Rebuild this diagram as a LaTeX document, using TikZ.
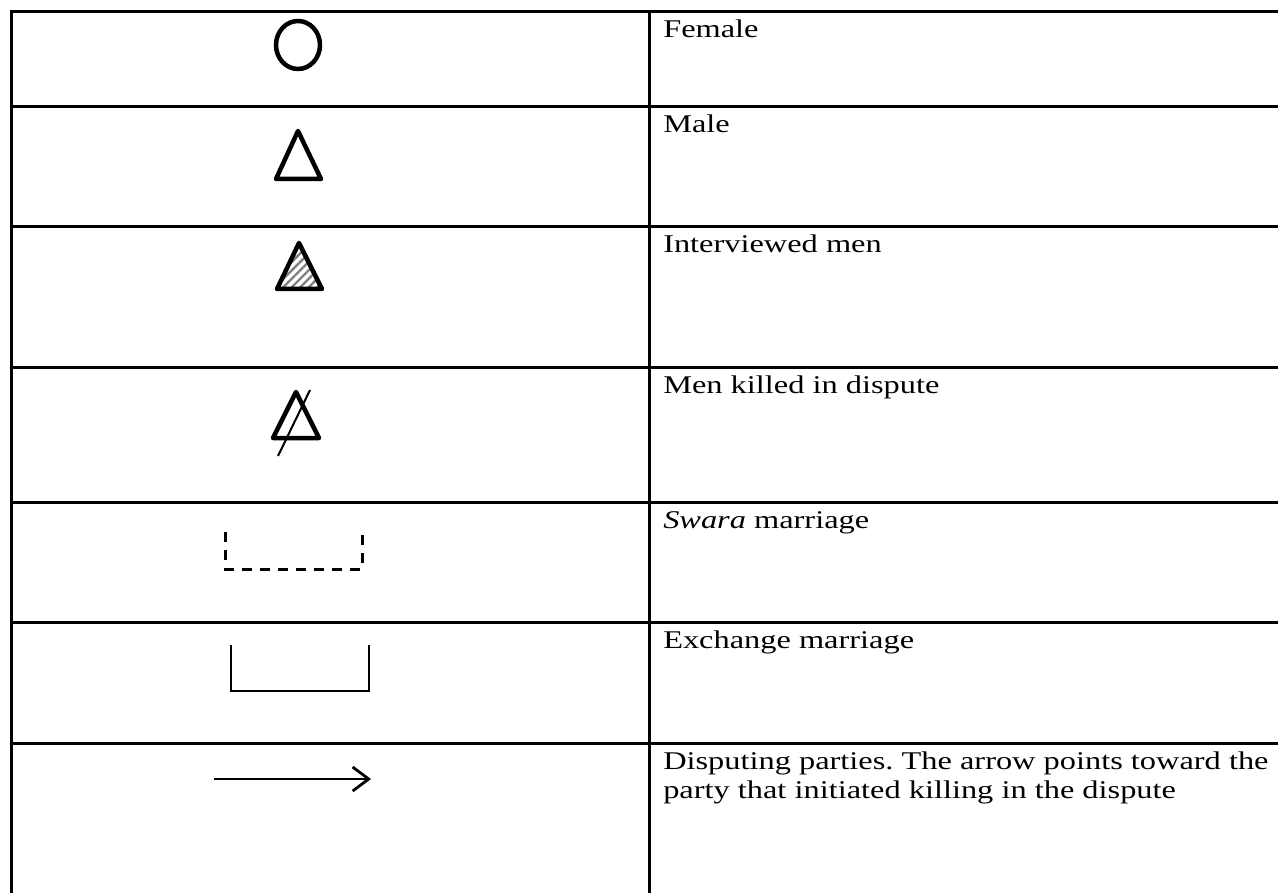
\documentclass[tikz,border=0pt]{standalone}
\usepackage{fontspec}
\setmainfont{Liberation Serif}
\usetikzlibrary{arrows.meta,patterns.meta}
\frenchspacing
\begin{document}
\begin{tikzpicture}[x=1pt,y=-1pt,
  rule/.style={line width=3pt},
  sym/.style={line width=4.5pt, line join=round, line cap=round},
  legendtext/.style={anchor=base west, font=\fontsize{25.5}{29}\selectfont, inner sep=0pt,
    xscale=1.27, transform shape},
]
\useasboundingbox (0,0) rectangle (1278,893);
\fill[white] (0,0) rectangle (1278,893);
% table rules
\draw[rule] (11,12) -- (11,893);
\draw[rule] (649,12) -- (649,893);
\foreach \y in {12,107,227,368,502,622,743}
  \draw[rule] (9.5,\y) -- (1278,\y);

% female
\draw[sym] (298,45) ellipse [x radius=22, y radius=24];
% male
\draw[sym] (298,131) -- (321,179) -- (276,179) -- cycle;
% interviewed men (hatched)
\draw[sym, pattern={Lines[angle=45,distance=6pt,line width=2.4pt]}, pattern color=gray]
  (299,243) -- (322,289) -- (277,289) -- cycle;
% men killed in dispute
\draw[sym] (296,392) -- (319,438) -- (273,438) -- cycle;
\draw[line width=2pt] (310,390) -- (278,456);
% swara marriage
\draw[line width=3pt, dash pattern=on 10pt off 8pt] (225,532) -- (225,569) -- (362,569) -- (362,529);
% exchange marriage
\draw[line width=2.2pt] (231,645) -- (231,691) -- (369,691) -- (369,645);
% disputing parties
\coordinate (a0) at (214,779);
\coordinate (a1) at (371,779);
\draw[line width=2.8pt, -{Straight Barb[length=16pt,width=24pt]}] (a0) -- (a1);

% labels
\node[legendtext] (t1) at (663,38) {Female};
\node[legendtext] (t2) at (663,133) {Male};
\node[legendtext] (t3) at (663,253) {Interviewed men};
\node[legendtext] (t4) at (663,394) {Men killed in dispute};
\node[legendtext] (t5) at (663,528) {\textit{Swara} marriage};
\node[legendtext] (t6) at (663,648) {Exchange marriage};
\node[legendtext] (t7) at (663,769) {Disputing parties. The arrow points toward the};
\node[legendtext] (t8) at (663,798) {party that initiated killing in the dispute};
\end{tikzpicture}
\end{document}
